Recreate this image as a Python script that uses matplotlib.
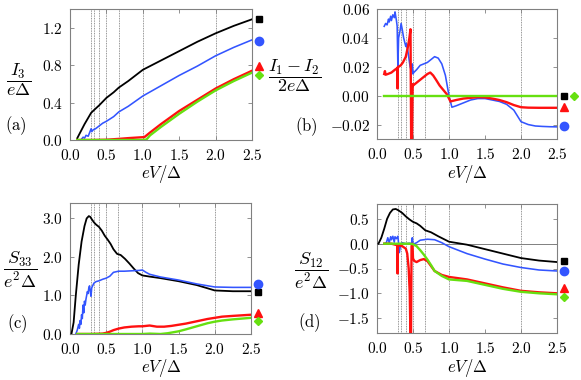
import matplotlib
matplotlib.use('Agg')
import matplotlib.pyplot as plt
from matplotlib.ticker import FuncFormatter

plt.rcParams['mathtext.fontset'] = 'cm'
plt.rcParams['font.family'] = 'serif'
plt.rcParams['font.serif'] = ['cmr10', 'DejaVu Serif']
plt.rcParams['axes.unicode_minus'] = True

# ---- data ----
vlines = [2 / n for n in range(1, 8)]

# (a) I3 / e Delta
a_black_x = [0.1, 0.2, 0.29, 0.33, 0.4, 0.5, 0.6, 0.67, 0.8, 1.0, 1.25, 1.5, 1.75, 2.0, 2.25, 2.5]
a_black_y = [0.02, 0.17, 0.29, 0.32, 0.37, 0.45, 0.51, 0.56, 0.63, 0.75, 0.85, 0.95, 1.05, 1.14, 1.22, 1.29]
a_blue_x = [0.15, 0.18, 0.2, 0.22, 0.25, 0.27, 0.29, 0.3, 0.32, 0.35, 0.4, 0.45, 0.5, 0.6, 0.67, 0.8, 1.0,
            1.25, 1.5, 1.75, 2.0, 2.25, 2.5]
a_blue_y = [0.0, 0.03, 0.02, 0.05, 0.04, 0.08, 0.12, 0.09, 0.11, 0.12, 0.15, 0.18, 0.2, 0.25, 0.3, 0.36, 0.47,
            0.58, 0.69, 0.79, 0.9, 0.99, 1.07]
a_red_x = [0.1, 0.3, 0.5, 0.67, 0.8, 1.0, 1.02, 1.1, 1.25, 1.5, 1.75, 2.0, 2.25, 2.5]
a_red_y = [0.0, 0.0, 0.003, 0.012, 0.02, 0.03, 0.03, 0.08, 0.17, 0.31, 0.43, 0.55, 0.65, 0.74]
a_green_x = [0.1, 1.0, 1.05, 1.1, 1.25, 1.5, 1.75, 2.0, 2.25, 2.5]
a_green_y = [0.0, 0.0, 0.005, 0.05, 0.14, 0.28, 0.41, 0.53, 0.63, 0.72]
a_marks = [1.29, 1.06, 0.79, 0.70]   # square, circle, triangle, diamond

# (b) (I1 - I2) / 2e Delta
b_blue_x = [0.10, 0.12, 0.14, 0.16, 0.17, 0.19, 0.20, 0.22, 0.24, 0.25, 0.26, 0.27, 0.28, 0.29, 0.30, 0.32,
            0.335, 0.35, 0.37, 0.39, 0.40, 0.41, 0.42, 0.44, 0.46, 0.48, 0.49, 0.50, 0.51, 0.55, 0.60, 0.65,
            0.70, 0.75, 0.80, 0.85, 0.90, 0.95, 1.00, 1.04, 1.10, 1.20, 1.30, 1.40, 1.50, 1.60, 1.70, 1.80,
            1.90, 2.00, 2.10, 2.20, 2.30, 2.40, 2.50]
b_blue_y = [0.048, 0.050, 0.049, 0.053, 0.051, 0.055, 0.052, 0.056, 0.054, 0.058, 0.055, 0.052, 0.048, 0.020,
            0.040, 0.045, 0.050, 0.046, 0.040, 0.036, 0.034, 0.036, 0.034, 0.027, 0.020, 0.017, 0.022, 0.015,
            0.016, 0.018, 0.021, 0.022, 0.023, 0.025, 0.027, 0.026, 0.022, 0.014, 0.000, -0.008, -0.007,
            -0.005, -0.003, -0.002, -0.002, -0.003, -0.004, -0.006, -0.010, -0.018, -0.020, -0.021, -0.0213,
            -0.0215, -0.0216]
b_red_x = [0.10, 0.11, 0.12, 0.15, 0.20, 0.25, 0.28, 0.285, 0.29, 0.30, 0.33, 0.36, 0.40, 0.43, 0.45, 0.465,
           0.475, 0.485, 0.495, 0.50, 0.55, 0.60, 0.65, 0.70, 0.74, 0.78, 0.82, 0.87, 0.92, 0.97, 1.00, 1.02,
           1.10, 1.20, 1.30, 1.40, 1.50, 1.60, 1.70, 1.80, 1.90, 2.00, 2.10, 2.25, 2.50]
b_red_y = [0.015, 0.017, 0.0145, 0.015, 0.016, 0.018, 0.019, 0.005, 0.020, 0.020, 0.021, 0.023, 0.027, 0.034,
           0.040, 0.046, -0.035, -0.035, 0.008, 0.007, 0.009, 0.011, 0.013, 0.015, 0.016, 0.014, 0.011, 0.007,
           0.004, 0.001, -0.002, -0.004, -0.003, -0.002, -0.0015, -0.001, -0.0012, -0.002, -0.003, -0.0045,
           -0.0065, -0.008, -0.0083, -0.0084, -0.0084]
b_green_x = [0.1, 2.5]
b_green_y = [0.0, 0.0]
b_marks = [0.0, -0.021, -0.0076, 0.0]

# (c) S33 / e^2 Delta
c_black_x = [0.02, 0.05, 0.08, 0.12, 0.16, 0.2, 0.23, 0.26, 0.28, 0.30, 0.33, 0.36, 0.40, 0.44, 0.48, 0.52,
             0.56, 0.60, 0.65, 0.70, 0.76, 0.82, 0.88, 0.94, 1.0, 1.1, 1.25, 1.5, 1.75, 2.0, 2.25, 2.5]
c_black_y = [0.0, 0.3, 1.0, 1.8, 2.4, 2.8, 3.0, 3.06, 3.04, 2.98, 2.9, 2.84, 2.78, 2.68, 2.55, 2.45, 2.34,
             2.2, 2.08, 2.05, 1.95, 1.83, 1.7, 1.58, 1.52, 1.49, 1.45, 1.37, 1.27, 1.13, 1.11, 1.11]
c_blue_x = [0.08, 0.1, 0.12, 0.13, 0.14, 0.15, 0.16, 0.17, 0.18, 0.19, 0.2, 0.21, 0.22, 0.23, 0.24, 0.25,
            0.26, 0.27, 0.28, 0.29, 0.3, 0.33, 0.36, 0.4, 0.45, 0.5, 0.55, 0.6, 0.67, 0.75, 0.85, 0.95, 1.0,
            1.05, 1.1, 1.25, 1.5, 1.75, 2.0, 2.25, 2.5]
c_blue_y = [0.0, 0.1, 0.25, 0.15, 0.35, 0.25, 0.5, 0.4, 0.75, 0.55, 0.85, 0.75, 0.9, 1.0, 1.1, 1.05, 1.2,
            1.25, 1.1, 0.98, 1.2, 1.32, 1.36, 1.38, 1.42, 1.45, 1.5, 1.6, 1.63, 1.63, 1.64, 1.65, 1.66, 1.6,
            1.55, 1.48, 1.4, 1.3, 1.22, 1.21, 1.21]
c_red_x = [0.1, 0.3, 0.45, 0.5, 0.55, 0.6, 0.67, 0.75, 0.85, 0.95, 1.0, 1.05, 1.1, 1.2, 1.3, 1.4, 1.5, 1.6,
           1.7, 1.8, 1.9, 2.0, 2.1, 2.25, 2.5]
c_red_y = [0.0, 0.0, 0.01, 0.03, 0.06, 0.1, 0.14, 0.17, 0.19, 0.2, 0.2, 0.21, 0.22, 0.19, 0.19, 0.21, 0.24,
           0.27, 0.31, 0.35, 0.39, 0.42, 0.45, 0.47, 0.5]
c_green_x = [0.1, 1.0, 1.1, 1.25, 1.35, 1.5, 1.6, 1.75, 1.9, 2.0, 2.1, 2.25, 2.5]
c_green_y = [0.0, 0.0, 0.01, 0.0, 0.02, 0.07, 0.12, 0.2, 0.28, 0.32, 0.35, 0.38, 0.42]
c_marks = [1.08, 1.30, 0.54, 0.34]

# (d) S12 / e^2 Delta
d_black_x = [0.02, 0.06, 0.1, 0.14, 0.18, 0.22, 0.26, 0.3, 0.35, 0.4, 0.45, 0.5, 0.55, 0.6, 0.67, 0.75,
             0.85, 1.0, 1.25, 1.5, 1.75, 2.0, 2.25, 2.5]
d_black_y = [0.0, 0.12, 0.3, 0.5, 0.62, 0.69, 0.7, 0.67, 0.62, 0.55, 0.49, 0.44, 0.41, 0.36, 0.27, 0.23,
             0.15, 0.04, -0.02, -0.11, -0.2, -0.29, -0.34, -0.37]
d_blue_x = [0.1, 0.13, 0.15, 0.17, 0.19, 0.2, 0.22, 0.24, 0.25, 0.27, 0.29, 0.3, 0.31, 0.33, 0.35, 0.4, 0.45,
            0.48, 0.49, 0.5, 0.52, 0.55, 0.6, 0.65, 0.7, 0.8, 0.9, 1.0, 1.25, 1.5, 1.75, 2.0, 2.25, 2.5]
d_blue_y = [0.0, 0.02, 0.12, 0.02, 0.14, 0.08, 0.15, 0.03, 0.14, 0.1, 0.15, 0.0, -0.18, 0.0, 0.02, 0.0, 0.01,
            0.0, 0.12, 0.0, 0.0, 0.02, 0.07, 0.08, 0.09, 0.08, 0.02, -0.06, -0.2, -0.31, -0.41, -0.48, -0.53,
            -0.55]
d_red_x = [0.1, 0.2, 0.28, 0.285, 0.29, 0.3, 0.35, 0.4, 0.42, 0.44, 0.455, 0.465, 0.472, 0.48, 0.49, 0.495,
           0.5, 0.52, 0.55, 0.6, 0.65, 0.7, 0.75, 0.8, 0.9, 1.0, 1.25, 1.5, 1.75, 2.0, 2.25, 2.5]
d_red_y = [0.0, 0.0, -0.03, -0.6, -0.02, -0.03, -0.05, -0.1, -0.2, -0.5, -1.0, -1.9, -1.9, -0.05, 0.0, -0.1,
           -0.3, -0.35, -0.37, -0.33, -0.31, -0.35, -0.45, -0.55, -0.63, -0.67, -0.72, -0.8, -0.88, -0.95,
           -0.98, -1.0]
d_green_x = [0.1, 0.3, 0.45, 0.5, 0.55, 0.6, 0.65, 0.7, 0.75, 0.8, 0.85, 0.9, 1.0, 1.25, 1.5, 1.75, 2.0,
             2.25, 2.5]
d_green_y = [0.0, 0.0, 0.0, -0.01, -0.05, -0.13, -0.22, -0.32, -0.43, -0.55, -0.6, -0.65, -0.72, -0.75,
             -0.83, -0.91, -0.97, -1.0, -1.02]
d_marks = [-0.35, -0.56, -0.89, -1.07]

BLACK, BLUE, RED, GREEN = 'black', '#3355ff', '#ff1010', '#66e010'
W, H = 581, 380


def rect(l, t, r, b):
    return [l / W, 1 - b / H, (r - l) / W, (b - t) / H]


fig = plt.figure(figsize=(W / 100, H / 100), dpi=100)


def panel(box, series, marks, ylim, yticks, fmt, zero=False, mark_x=None):
    ax = fig.add_axes(rect(*box))
    for v in vlines:
        ax.axvline(v, color='0.45', lw=0.6, ls=(0, (1, 1)), zorder=1)
    if zero:
        ax.axhline(0, color='0.5', lw=0.7, zorder=1)
    for (x, y), c, lw in zip(series, [BLACK, BLUE, RED, GREEN], [1.3, 1.15, 1.7, 1.7]):
        ax.plot(x, y, color=c, lw=lw, zorder=3)
    mk = ['s', 'o', '^', 'D']
    ms = [5, 6, 5.5, 4.5]
    xs = mark_x or [2.6] * 4
    for c, m, s, yv, xv in zip([BLACK, BLUE, RED, GREEN], mk, ms, marks, xs):
        ax.plot([xv], [yv], marker=m, ms=s, color=c, ls='none', clip_on=False, zorder=5)
    ax.set_xlim(0, 2.5)
    ax.set_ylim(*ylim)
    ax.set_xticks([0, 0.5, 1.0, 1.5, 2.0, 2.5])
    ax.set_yticks(yticks)
    ax.xaxis.set_major_formatter(FuncFormatter(lambda v, p: r'$%.1f$' % v))
    ax.yaxis.set_major_formatter(FuncFormatter(
        lambda v, p: r'$%s$' % (fmt % (0.0 if abs(v) < 1e-9 else v))))
    ax.tick_params(direction='in', length=3, width=0.6, color='0.5', labelsize=11,
                   top=True, right=True)
    ax.tick_params(axis='x', pad=6)
    ax.tick_params(axis='y', pad=5)
    for s in ax.spines.values():
        s.set_color('0.5')
        s.set_linewidth(0.8)
    return ax


panel((70, 9, 252, 140),
      [(a_black_x, a_black_y), (a_blue_x, a_blue_y), (a_red_x, a_red_y), (a_green_x, a_green_y)],
      a_marks, (0, 1.4), [0, 0.4, 0.8, 1.2], '%.1f')
panel((377, 9, 557, 139),
      [(b_green_x, b_green_y), (b_blue_x, b_blue_y), (b_red_x, b_red_y), (b_green_x, b_green_y)],
      b_marks, (-0.03, 0.06), [-0.02, 0, 0.02, 0.04, 0.06], '%.2f',
      mark_x=[2.6, 2.6, 2.6, 2.73])
panel((70, 203, 251, 334),
      [(c_black_x, c_black_y), (c_blue_x, c_blue_y), (c_red_x, c_red_y), (c_green_x, c_green_y)],
      c_marks, (0, 3.4), [0, 1, 2, 3], '%.1f')
panel((377, 204, 557, 333),
      [(d_black_x, d_black_y), (d_blue_x, d_blue_y), (d_red_x, d_red_y), (d_green_x, d_green_y)],
      d_marks, (-1.8, 0.8), [-1.5, -1.0, -0.5, 0, 0.5], '%.1f', zero=True)


def ftext(x, y, s, size=12):
    fig.text(x / W, 1 - y / H, s, ha='center', va='center', fontsize=size)


ftext(19, 80, r'$\dfrac{I_3}{e\Delta}$', 13)
ftext(16, 126, r'$\mathrm{(a)}$')
ftext(295, 76, r'$\dfrac{I_1-I_2}{2e\Delta}$', 13)
ftext(306, 127, r'$\mathrm{(b)}$')
ftext(20, 270, r'$\dfrac{S_{33}}{e^2\Delta}$', 13)
ftext(17, 324, r'$\mathrm{(c)}$')
ftext(311, 271, r'$\dfrac{S_{12}}{e^2\Delta}$', 13)
ftext(309, 323, r'$\mathrm{(d)}$')
for cx, cy in [(161, 174), (467, 174), (161, 368), (467, 368)]:
    ftext(cx, cy, r'$eV/\Delta$', 12)

fig.savefig('out.png', dpi=100)
